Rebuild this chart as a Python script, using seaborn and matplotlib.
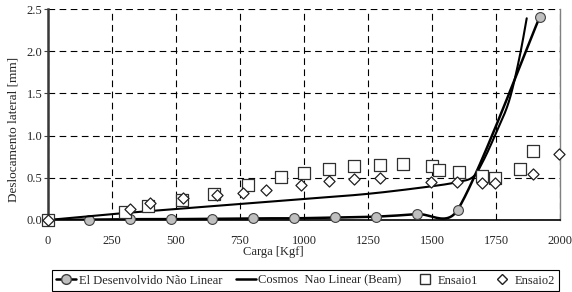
import numpy as np
import pandas as pd
import matplotlib
matplotlib.use("Agg")
import matplotlib.pyplot as plt
from matplotlib.lines import Line2D
import seaborn as sns

# ---- data ----
ei_x = [0, 160, 320, 480, 640, 800, 960, 1120, 1280, 1440, 1600, 1920]
ei_y = [0.0, 0.005, 0.01, 0.01, 0.015, 0.02, 0.02, 0.03, 0.04, 0.07, 0.12, 2.40]

cosmos_x = [0, 250, 500, 750, 1000, 1250, 1500, 1600, 1660, 1700, 1750, 1800, 1840, 1870]
cosmos_y = [0.0, 0.07, 0.13, 0.19, 0.25, 0.31, 0.40, 0.45, 0.51, 0.70, 1.03, 1.40, 1.90, 2.39]

ens1_x = [0, 300, 390, 523, 648, 781, 910, 1000, 1098, 1195, 1297, 1387, 1500, 1527, 1605, 1695, 1746, 1844, 1895]
ens1_y = [0.0, 0.10, 0.16, 0.24, 0.31, 0.41, 0.51, 0.56, 0.60, 0.64, 0.65, 0.66, 0.64, 0.59, 0.57, 0.52, 0.50, 0.60, 0.82]

ens2_x = [0, 320, 398, 527, 660, 760, 851, 988, 1098, 1195, 1297, 1496, 1598, 1695, 1746, 1895, 1996]
ens2_y = [0.0, 0.13, 0.20, 0.26, 0.30, 0.32, 0.36, 0.42, 0.46, 0.49, 0.50, 0.45, 0.45, 0.44, 0.44, 0.54, 0.78]

x_ticks = [0, 250, 500, 750, 1000, 1250, 1500, 1750, 2000]
y_ticks = [0.0, 0.5, 1.0, 1.5, 2.0, 2.5]

labels = ["El Desenvolvido Não Linear", "Cosmos  Nao Linear (Beam)", "Ensaio1", "Ensaio2"]


def smooth(xs, ys, sx=2000 / 512, sy=2.5 / 211, n=40):
    """Excel-like smoothed line (cubic Bezier through the points)."""
    P = np.column_stack([np.asarray(xs, float) / sx, np.asarray(ys, float) / sy])
    m = len(P)
    tang = []
    for i in range(m):
        pm = P[i - 1] if i > 0 else P[i]
        pp = P[i + 1] if i + 1 < m else P[i]
        d = pp - pm
        nd = np.linalg.norm(d)
        tang.append((d / nd if nd > 0 else d, nd / 6.0))
    out = []
    for i in range(m - 1):
        p0 = P[i]
        p3 = P[i + 1]
        seg_len = np.linalg.norm(p3 - p0)
        u0, l0 = tang[i]
        u1, l1 = tang[i + 1]
        c1 = p0 + u0 * min(l0, 0.5 * seg_len)
        c2 = p3 - u1 * min(l1, 0.5 * seg_len)
        t = np.linspace(0, 1, n)[:, None]
        seg = ((1 - t) ** 3) * p0 + 3 * ((1 - t) ** 2) * t * c1 + 3 * (1 - t) * t ** 2 * c2 + t ** 3 * p3
        out.append(seg if i == 0 else seg[1:])
    out = np.vstack(out)
    return out[:, 0] * sx, out[:, 1] * sy


sns.set_style("white")
plt.rcParams["font.family"] = ["Liberation Serif", "DejaVu Serif"]
FS = 9

fig = plt.figure(figsize=(5.72, 2.92), dpi=100)
ax = fig.add_axes([48 / 572, 1 - 220 / 292, (560 - 48) / 572, (220 - 9) / 292])

ex, ey = smooth(ei_x, ei_y)
cx, cy = smooth(cosmos_x, cosmos_y)
df_ei_line = pd.DataFrame({"x": ex, "y": ey})
df_cos_line = pd.DataFrame({"x": cx, "y": cy})

sns.lineplot(data=df_ei_line, x="x", y="y", ax=ax, color="black", lw=1.8, sort=False,
             estimator=None, zorder=3)
sns.scatterplot(x=ei_x, y=ei_y, ax=ax, marker="o", s=50, color="#bfbfbf",
                edgecolor="#404040", linewidth=0.8, zorder=4, clip_on=False)
sns.lineplot(data=df_cos_line, x="x", y="y", ax=ax, color="black", lw=1.5, sort=False,
             estimator=None, zorder=5)
sns.scatterplot(x=ens1_x, y=ens1_y, ax=ax, marker="s", s=66, color="white",
                edgecolor="#303030", linewidth=0.9, zorder=6, clip_on=False)
sns.scatterplot(x=ens2_x, y=ens2_y, ax=ax, marker="D", s=32, color="white",
                edgecolor="#202020", linewidth=0.9, zorder=7, clip_on=False)

ax.set_xlim(0, 2000)
ax.set_ylim(0, 2.5)
ax.set_xticks(x_ticks)
ax.set_xticklabels([str(v) for v in x_ticks], fontsize=FS)
ax.set_yticks(y_ticks)
ax.set_yticklabels([f"{v:.1f}" for v in y_ticks], fontsize=FS)
ax.tick_params(axis="y", length=3, width=0.8, color="#404040", pad=1, direction="out", left=True)
ax.tick_params(axis="x", length=0, pad=11)
ax.grid(True, color="black", linestyle=(0, (6, 4)), linewidth=0.8)
ax.set_axisbelow(True)

ax.spines["top"].set_visible(False)
ax.spines["left"].set_color("#383838")
ax.spines["left"].set_linewidth(1.8)
ax.spines["bottom"].set_color("black")
ax.spines["bottom"].set_linewidth(1.2)
ax.spines["right"].set_color("#808080")
ax.spines["right"].set_linewidth(1.0)

ax.set_xlabel("")
ax.set_ylabel("")
fig.text(273 / 572, 1 - 252 / 292, "Carga [Kgf]", ha="center", va="center", fontsize=FS)
fig.text(14 / 572, 1 - 129 / 292, "Deslocamento lateral [mm]", rotation=90,
         ha="center", va="center", fontsize=9.5)

handles = [
    Line2D([], [], color="black", lw=1.8, marker="o", markersize=7,
           markerfacecolor="#bfbfbf", markeredgecolor="#404040"),
    Line2D([], [], color="black", lw=1.8),
    Line2D([], [], color="none", marker="s", markersize=7.5,
           markerfacecolor="white", markeredgecolor="#303030"),
    Line2D([], [], color="none", marker="D", markersize=5.5,
           markerfacecolor="white", markeredgecolor="#202020"),
]
leg = fig.legend(handles, labels, loc="lower left", ncol=4, mode="expand",
                 bbox_to_anchor=(52 / 572, 1 / 292, (559 - 52) / 572, (291 - 268) / 292),
                 fontsize=FS, frameon=True, fancybox=False, framealpha=1,
                 edgecolor="black", handlelength=1.6, handletextpad=0.2,
                 borderaxespad=0, borderpad=0.35, columnspacing=0.8)
leg.get_frame().set_linewidth(0.8)

fig.savefig("out.png", dpi=100)
